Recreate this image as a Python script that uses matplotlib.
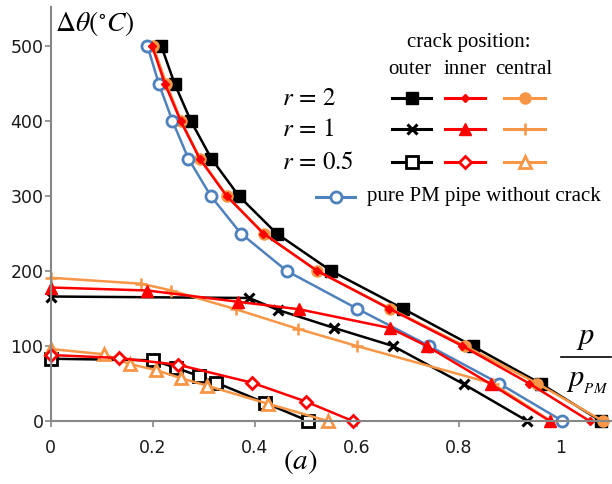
import numpy as np
import matplotlib.pyplot as plt
from matplotlib.lines import Line2D

plt.rcParams['mathtext.fontset'] = 'stix'

# r = 2 (all share the same temperature steps)
y_r2 = [500, 450, 400, 350, 300, 250, 200, 150, 100, 50, 0]
outer_r2 = [0.217, 0.243, 0.275, 0.315, 0.369, 0.443, 0.55, 0.69, 0.827, 0.96, 1.078]
inner_r2 = [0.199, 0.224, 0.255, 0.292, 0.345, 0.417, 0.523, 0.663, 0.807, 0.938, 1.056]
central_r2 = [0.201, 0.227, 0.256, 0.293, 0.346, 0.418, 0.522, 0.665, 0.812, 0.954, 1.082]
pure_pm = [0.19, 0.212, 0.239, 0.27, 0.314, 0.373, 0.463, 0.6, 0.742, 0.879, 1.003]

# r = 1
outer_r1_x = [0, 0.389, 0.446, 0.556, 0.671, 0.81, 0.934]
outer_r1_y = [166, 164, 148, 124, 100, 49, 0]
inner_r1_x = [0, 0.19, 0.367, 0.487, 0.665, 0.737, 0.863, 0.978]
inner_r1_y = [178, 174, 159, 149, 124, 100, 49, 0]
central_r1_x = [0, 0.178, 0.237, 0.363, 0.484, 0.6, 0.866, 0.98]
central_r1_y = [191, 183, 174, 149, 123, 100, 50, 0]

# r = 0.5
outer_r05_x = [0, 0.2, 0.246, 0.29, 0.325, 0.421, 0.505]
outer_r05_y = [83, 81, 71, 60, 51, 24, 0]
inner_r05_x = [0, 0.134, 0.25, 0.395, 0.5, 0.592]
inner_r05_y = [88, 84, 75, 51, 26, 0]
central_r05_x = [0, 0.104, 0.155, 0.206, 0.256, 0.307, 0.426, 0.543]
central_r05_y = [96, 89, 76, 68, 57, 47, 23, 0]

x_ticks = [0, 0.2, 0.4, 0.6, 0.8, 1.0]
x_labels = ['0', '0.2', '0.4', '0.6', '0.8', '1']
y_ticks = [0, 100, 200, 300, 400, 500]

BLACK = 'black'
RED = '#FF0000'
ORANGE = '#F79646'
BLUE = '#4F81BD'
GRAY = '#878787'
LW = 1.8

# marker styles
sty = {
    'outer_r2': dict(color=BLACK, marker='s', ms=8.5, mfc=BLACK, mew=1),
    'inner_r2': dict(color=RED, marker='D', ms=4.5, mfc=RED, mew=1),
    'central_r2': dict(color=ORANGE, marker='o', ms=8, mfc=ORANGE, mew=1),
    'outer_r1': dict(color=BLACK, marker='x', ms=7.5, mew=2.2),
    'inner_r1': dict(color=RED, marker='^', ms=9, mfc=RED, mew=1),
    'central_r1': dict(color=ORANGE, marker='+', ms=9, mew=1.8),
    'outer_r05': dict(color=BLACK, marker='s', ms=8, mfc='white', mew=2),
    'inner_r05': dict(color=RED, marker='D', ms=6.5, mfc='white', mew=2),
    'central_r05': dict(color=ORANGE, marker='^', ms=8.5, mfc='white', mew=2),
    'pure': dict(color=BLUE, marker='o', ms=8, mfc='white', mew=2),
}

fig = plt.figure(figsize=(6.12, 4.84), dpi=100)
ax = fig.add_axes([50.5 / 612, 63 / 484, 561.5 / 612, 414 / 484])

def line(x, y, key):
    ax.plot(x, y, lw=LW, clip_on=False, **sty[key])

line(outer_r2, y_r2, 'outer_r2')
line(central_r2, y_r2, 'central_r2')
line(pure_pm, y_r2, 'pure')
line(inner_r2, y_r2, 'inner_r2')

line(outer_r1_x, outer_r1_y, 'outer_r1')
line(central_r1_x, central_r1_y, 'central_r1')
line(inner_r1_x, inner_r1_y, 'inner_r1')

line(outer_r05_x, outer_r05_y, 'outer_r05')
line(central_r05_x, central_r05_y, 'central_r05')
line(inner_r05_x, inner_r05_y, 'inner_r05')

ax.set_xlim(0, 1.1)
ax.set_ylim(0, 552)
for s in ['top', 'right']:
    ax.spines[s].set_visible(False)
for s in ['left', 'bottom']:
    ax.spines[s].set_color(GRAY)
    ax.spines[s].set_linewidth(1.5)
ax.set_xticks(x_ticks)
ax.set_xticklabels(x_labels)
ax.set_yticks(y_ticks)
ax.tick_params(colors=GRAY, labelcolor='#1a1a1a', labelsize=12.5, length=4, width=1.2)
ax.tick_params(axis='x', pad=9)
ax.tick_params(axis='y', pad=1)
ax.set_facecolor('none')

# texts in figure pixel coords
def px(x, y):
    return x / 612, 1 - y / 484

serif = 'Liberation Serif'
fig.text(*px(55, 23), r'$\Delta\theta(^{\circ}C)$', fontsize=20, va='center', ha='left')
fig.text(*px(300, 461), r'$(a)$', fontsize=21, va='center', ha='center')
fig.text(*px(585, 338), r'$p$', fontsize=22, va='center', ha='center')
fig.add_artist(Line2D([561 / 612, 611 / 612], [1 - 357 / 484] * 2, color=BLACK, lw=1.2))
fig.text(*px(587, 382), r'$p_{_{PM}}$', fontsize=22, va='center', ha='center')

fig.text(*px(469, 42), 'crack position:', family=serif, fontsize=15, ha='center', va='center')
for name, cx in zip(['outer', 'inner', 'central'], [410, 465, 524]):
    fig.text(*px(cx, 69), name, family=serif, fontsize=15, ha='center', va='center')

rows = [(98, r'$r\,=\,2$', ['outer_r2', 'inner_r2', 'central_r2']),
        (129, r'$r\,=\,1$', ['outer_r1', 'inner_r1', 'central_r1']),
        (162, r'$r\,=\,0.5$', ['outer_r05', 'inner_r05', 'central_r05'])]
for ry, lab, keys in rows:
    fig.text(*px(282, ry), lab, fontsize=18, ha='left', va='center')
    for key, (x0, x1) in zip(keys, [(392, 431), (445, 485), (504, 545)]):
        xa, ya = px(x0, ry)
        xb, _ = px(x1, ry)
        fig.add_artist(Line2D([xa, xb], [ya, ya], lw=2.2, color=sty[key]['color']))
        k = dict(sty[key])
        k.pop('color')
        fig.add_artist(Line2D([(xa + xb) / 2], [ya], color=sty[key]['color'], ls='none', **k))

xa, ya = px(316, 197)
xb, _ = px(355, 197)
fig.add_artist(Line2D([xa, xb], [ya, ya], lw=2.2, color=BLUE))
k = dict(sty['pure'])
k.pop('color')
fig.add_artist(Line2D([(xa + xb) / 2], [ya], color=BLUE, ls='none', **k))
fig.text(*px(367, 197), 'pure PM pipe without crack', family=serif, fontsize=15, ha='left', va='center')

fig.savefig('out.png', dpi=100)
